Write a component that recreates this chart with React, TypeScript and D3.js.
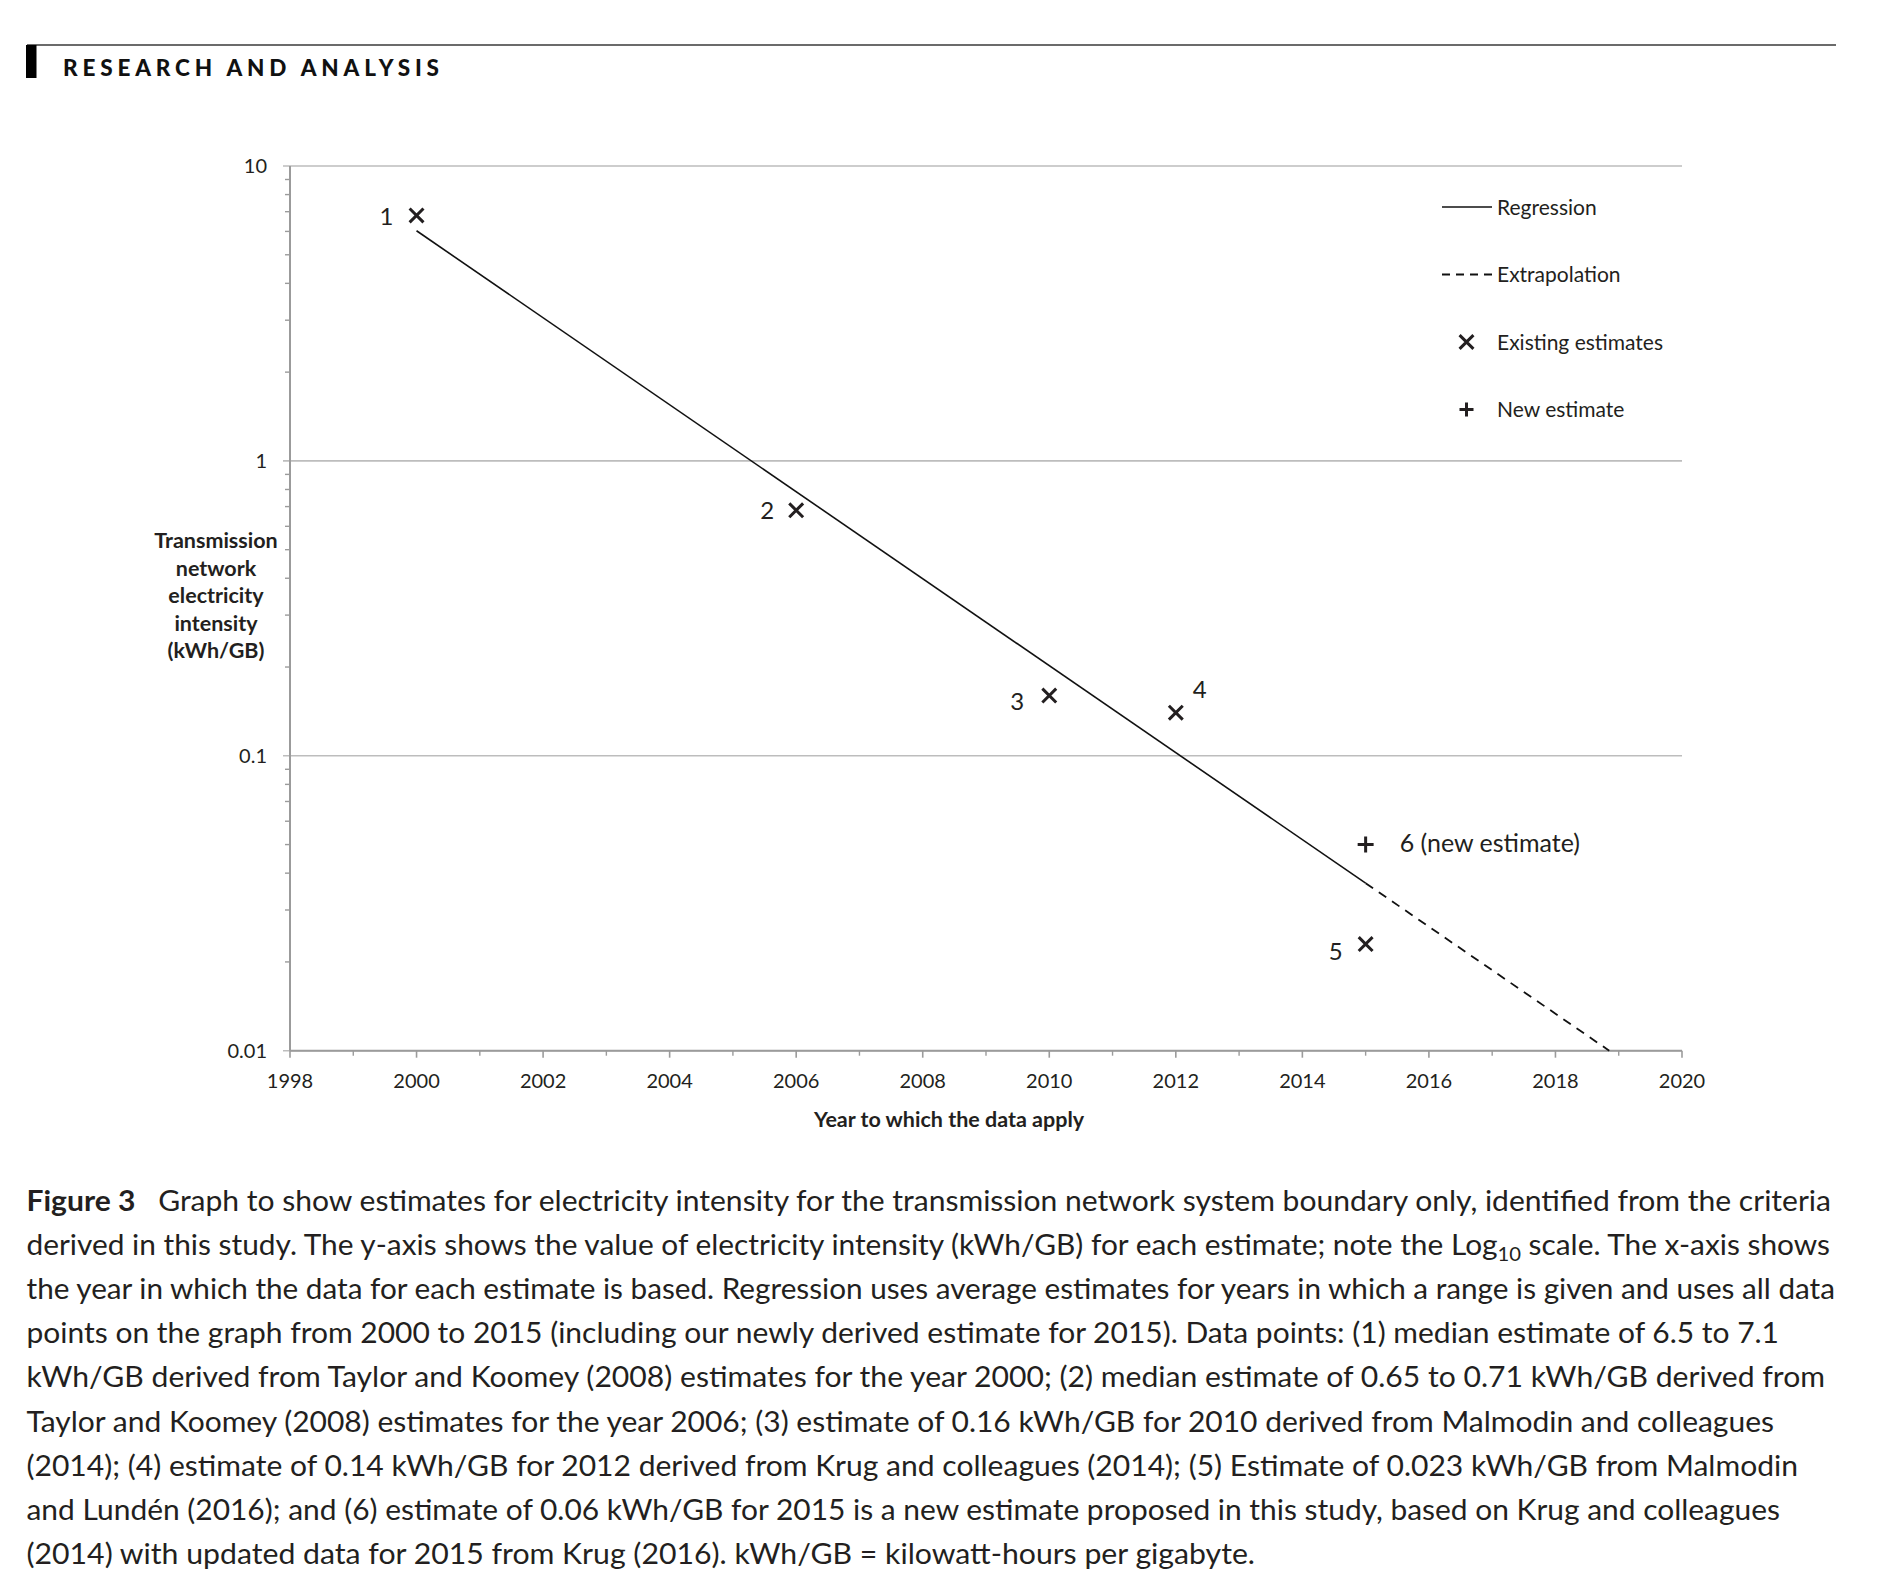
import * as d3 from 'd3'

// ---- data ----
const estimateLabels = ['1', '2', '3', '4', '5']
const estimateYears = [2000, 2006, 2010, 2012, 2015]
const estimateValues = [6.8, 0.68, 0.16, 0.14, 0.023]

const newEstimateYear = 2015
const newEstimateValue = 0.05
const newEstimateLabel = '6 (new estimate)'

const regressionYears = [2000, 2015]
const regressionValues = [6.03, 0.037]
const extrapolationYears = [2015, 2018.85]
const extrapolationValues = [0.037, 0.01]

const xTickYears = d3.range(1998, 2021, 2)
const xMinorYears = d3.range(1999, 2020, 2)
const yTickValues = [0.01, 0.1, 1, 10]
const yTickLabels = ['0.01', '0.1', '1', '10']

const legendLabels = ['Regression', 'Extrapolation', 'Existing estimates', 'New estimate']
const yTitleLines = ['Transmission', 'network', 'electricity', 'intensity', '(kWh/GB)']
const xTitle = 'Year to which the data apply'
const header = 'RESEARCH AND ANALYSIS'

const captionLines = [
  'Graph to show estimates for electricity intensity for the transmission network system boundary only, identified from the criteria',
  'derived in this study. The y-axis shows the value of electricity intensity (kWh/GB) for each estimate; note the Log',
  'the year in which the data for each estimate is based. Regression uses average estimates for years in which a range is given and uses all data',
  'points on the graph from 2000 to 2015 (including our newly derived estimate for 2015). Data points: (1) median estimate of 6.5 to 7.1',
  'kWh/GB derived from Taylor and Koomey (2008) estimates for the year 2000; (2) median estimate of 0.65 to 0.71 kWh/GB derived from',
  'Taylor and Koomey (2008) estimates for the year 2006; (3) estimate of 0.16 kWh/GB for 2010 derived from Malmodin and colleagues',
  '(2014); (4) estimate of 0.14 kWh/GB for 2012 derived from Krug and colleagues (2014); (5) Estimate of 0.023 kWh/GB from Malmodin',
  'and Lundén (2016); and (6) estimate of 0.06 kWh/GB for 2015 is a new estimate proposed in this study, based on Krug and colleagues',
  '(2014) with updated data for 2015 from Krug (2016). kWh/GB = kilowatt-hours per gigabyte.',
]

// ---- layout ----
const W = 1890
const H = 1592
const plot = { left: 290, right: 1682, top: 166, bottom: 1050.7 }
const ink = '#231f20'
const font = 'Lato, "Open Sans", sans-serif'
// label offsets from each point (dx, dy, anchor)
const labelOffsets: [number, number, string][] = [
  [-30, 1, 'middle'],
  [-29, 0, 'middle'],
  [-32, 6, 'middle'],
  [24, -23, 'middle'],
  [-30, 7, 'middle'],
]
const captionEnds = [1831, 1830, 1835, 1779, 1825, 1774, 1798, 1780, 1255]

export default function App() {
  const x = d3.scaleLinear().domain([1998, 2020]).range([plot.left, plot.right])
  const y = d3.scaleLog().domain([0.01, 10]).range([plot.bottom, plot.top])

  const line = d3
    .line<[number, number]>()
    .x((d) => x(d[0]))
    .y((d) => y(d[1]))

  const regression = regressionYears.map((yr, i) => [yr, regressionValues[i]] as [number, number])
  const extrapolation = extrapolationYears.map((yr, i) => [yr, extrapolationValues[i]] as [number, number])

  const times = d3.symbol().type(d3.symbolTimes).size(127)()!
  const plus = d3.symbol().type(d3.symbolPlus).size(85)()!
  const plusSmall = d3.symbol().type(d3.symbolPlus).size(66)()!

  // minor y ticks 2..9 in each decade
  const minorY: number[] = []
  for (const dec of [0.01, 0.1, 1]) for (let k = 2; k <= 9; k++) minorY.push(dec * k)

  const legendRows = [207, 274.5, 342, 409.5]
  const legendX = 1442
  const captionY0 = 1211
  const captionStep = 44.1

  return (
    <svg
      width={W}
      height={H}
      style={{ position: 'absolute', left: 0, top: 0, display: 'block', background: '#fff' }}
      fontFamily={font}
    >
      <rect width={W} height={H} fill="#fff" />

      {/* header */}
      <line x1={27} x2={1836} y1={45} y2={45} stroke="#6b6b6b" strokeWidth={2} />
      <rect x={26} y={45} width={10.5} height={33} fill="#000" />
      <text x={63} y={76} fontSize={22.5} fontWeight={900} fill="#111" textLength={376} lengthAdjust="spacing">
        {header}
      </text>

      {/* gridlines */}
      {yTickValues.map((v) => (
        <line key={v} x1={plot.left - 7} x2={plot.right} y1={y(v)} y2={y(v)} stroke="#bdbdbd" strokeWidth={1.6} />
      ))}
      {/* y axis */}
      <line x1={plot.left} x2={plot.left} y1={plot.top} y2={plot.bottom} stroke="#9b9b9b" strokeWidth={2} />
      {minorY.map((v) => (
        <line key={v} x1={plot.left - 5} x2={plot.left} y1={y(v)} y2={y(v)} stroke="#9b9b9b" strokeWidth={1.4} />
      ))}
      {yTickValues.map((v, i) => (
        <text key={v} x={plot.left - 23} y={y(v) + 7} fontSize={20} textAnchor="end" fill={ink}>
          {yTickLabels[i]}
        </text>
      ))}

      {/* x axis */}
      <line x1={plot.left} x2={plot.right} y1={plot.bottom} y2={plot.bottom} stroke="#9b9b9b" strokeWidth={2} />
      {xTickYears.map((yr) => (
        <g key={yr}>
          <line x1={x(yr)} x2={x(yr)} y1={plot.bottom} y2={plot.bottom + 7} stroke="#9b9b9b" strokeWidth={1.6} />
          <text x={x(yr)} y={1088} fontSize={20} textAnchor="middle" fill={ink}>
            {yr}
          </text>
        </g>
      ))}
      {xMinorYears.map((yr) => (
        <line key={yr} x1={x(yr)} x2={x(yr)} y1={plot.bottom} y2={plot.bottom + 5} stroke="#9b9b9b" strokeWidth={1.4} />
      ))}

      {/* axis titles */}
      {yTitleLines.map((t, i) => (
        <text key={t} x={216} y={548 + i * 27.5} fontSize={21.5} fontWeight={700} textAnchor="middle" fill={ink}>
          {t}
        </text>
      ))}
      <text x={949} y={1127} fontSize={21.5} fontWeight={700} textAnchor="middle" fill={ink}>
        {xTitle}
      </text>

      {/* regression + extrapolation */}
      <path d={line(regression) ?? undefined} fill="none" stroke="#111" strokeWidth={1.6} />
      <path d={line(extrapolation) ?? undefined} fill="none" stroke="#111" strokeWidth={1.8} strokeDasharray="9 7" />

      {/* existing estimates */}
      {estimateYears.map((yr, i) => (
        <g key={yr + '-' + i}>
          <path
            d={times}
            transform={`translate(${x(yr)},${y(estimateValues[i])})`}
            fill="none"
            stroke={ink}
            strokeWidth={3}
          />
          <text
            x={x(yr) + labelOffsets[i][0]}
            y={y(estimateValues[i]) + labelOffsets[i][1] + 8.5}
            fontSize={24}
            textAnchor={labelOffsets[i][2]}
            fill={ink}
          >
            {estimateLabels[i]}
          </text>
        </g>
      ))}

      {/* new estimate */}
      <path
        d={plus}
        transform={`translate(${x(newEstimateYear)},${y(newEstimateValue)})`}
        fill="none"
        stroke={ink}
        strokeWidth={3}
      />
      <text x={x(newEstimateYear) + 34} y={y(newEstimateValue) + 7} fontSize={25} fill={ink}>
        {newEstimateLabel}
      </text>

      {/* legend */}
      <g fontSize={21} fill={ink}>
        <line x1={legendX} x2={legendX + 50} y1={legendRows[0]} y2={legendRows[0]} stroke="#111" strokeWidth={1.6} />
        <line
          x1={legendX}
          x2={legendX + 50}
          y1={legendRows[1]}
          y2={legendRows[1]}
          stroke="#111"
          strokeWidth={1.8}
          strokeDasharray="8 6"
        />
        <path d={times} transform={`translate(${legendX + 24.5},${legendRows[2]})`} fill="none" stroke={ink} strokeWidth={3} />
        <path d={plusSmall} transform={`translate(${legendX + 24.5},${legendRows[3]})`} fill="none" stroke={ink} strokeWidth={3} />
        {legendLabels.map((t, i) => (
          <text key={t} x={legendX + 55} y={legendRows[i] + 7.5} fill={ink}>
            {t}
          </text>
        ))}
      </g>

      {/* caption */}
      <g fontSize={28} fill={ink}>
        {captionLines.map((t, i) => {
          const yy = captionY0 + i * captionStep
          const len = captionEnds[i] - 26.5
          if (i === 0)
            return (
              <text key={i} x={26.5} y={yy} textLength={len} lengthAdjust="spacingAndGlyphs">
                <tspan fontWeight={700}>Figure 3</tspan>
                <tspan>{'\u2002 ' + t}</tspan>
              </text>
            )
          if (i === 1)
            return (
              <text key={i} x={26.5} y={yy} textLength={len} lengthAdjust="spacingAndGlyphs">
                {t}
                <tspan fontSize={19} dy={6}>
                  10
                </tspan>
                <tspan dy={-6}>{' scale. The x-axis shows'}</tspan>
              </text>
            )
          return (
            <text key={i} x={26.5} y={yy} textLength={len} lengthAdjust="spacingAndGlyphs">
              {t}
            </text>
          )
        })}
      </g>
    </svg>
  )
}
